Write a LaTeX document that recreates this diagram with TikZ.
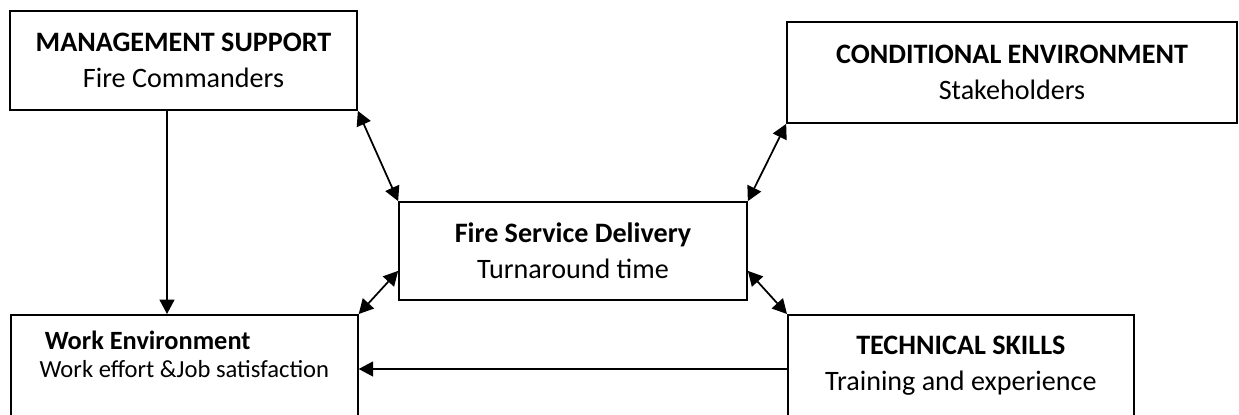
\documentclass[tikz,border=0pt]{standalone}
\usepackage{fontspec}
\setmainfont{Carlito}
\usetikzlibrary{arrows.meta}
\begin{document}
\begin{tikzpicture}[x=0.02cm,y=0.02cm,>={Triangle[length=0.29cm,width=0.3cm]},
    box/.style={draw,line width=1pt,align=center,inner sep=0pt,font=\fontsize{16}{20.5}\selectfont},
    link/.style={line width=1pt}]%
     \useasboundingbox (0,0) rectangle (1239,-414);
     \clip (0,0) rectangle (1239,-414);

     \node [box,minimum width=6.94cm,minimum height=1.98cm] at (183.5,-60.5) (MS) {\textbf{MANAGEMENT SUPPORT}\\Fire Commanders};
     \node [box,minimum width=9.0cm,minimum height=2.02cm] at (1012,-72.5) (CE) {\textbf{CONDITIONAL ENVIRONMENT}\\Stakeholders};
     \node [box,minimum width=6.96cm,minimum height=1.96cm] at (573,-251) (FSD) {\textbf{Fire Service Delivery}\\Turnaround time};
     \node [box,anchor=north west,minimum width=6.94cm,align=left,inner ysep=0.33cm,text depth=1.8cm,font=\fontsize{14}{15.5}\selectfont] at (10,-314) (WE) {\hspace{3pt}{\fontsize{15}{15.5}\selectfont\textbf{Work Environment}}\\ Work effort \&Job satisfaction};
     \node [box,anchor=north west,minimum width=6.92cm,inner ysep=0.43cm,text depth=1.6cm] at (787,-314) (TS) {\textbf{TECHNICAL SKILLS}\\Training and experience};

     \draw [link,->] ([xshift=-0.33cm]MS.south) -- ([xshift=-0.33cm]MS.south |- WE.north);
     \draw [link,<->] (MS.south east) -- (FSD.north west);
     \draw [link,<->] (CE.south west) -- (FSD.north east);
     \draw [link,<->] ([yshift=0.6cm]FSD.south west) -- (WE.north east);
     \draw [link,<->] ([yshift=0.6cm]FSD.south east) -- (TS.north west);
     \draw [link,->] ([yshift=-1.1cm]TS.north west) -- ([yshift=-1.1cm]WE.north east);
\end{tikzpicture}
\end{document}
